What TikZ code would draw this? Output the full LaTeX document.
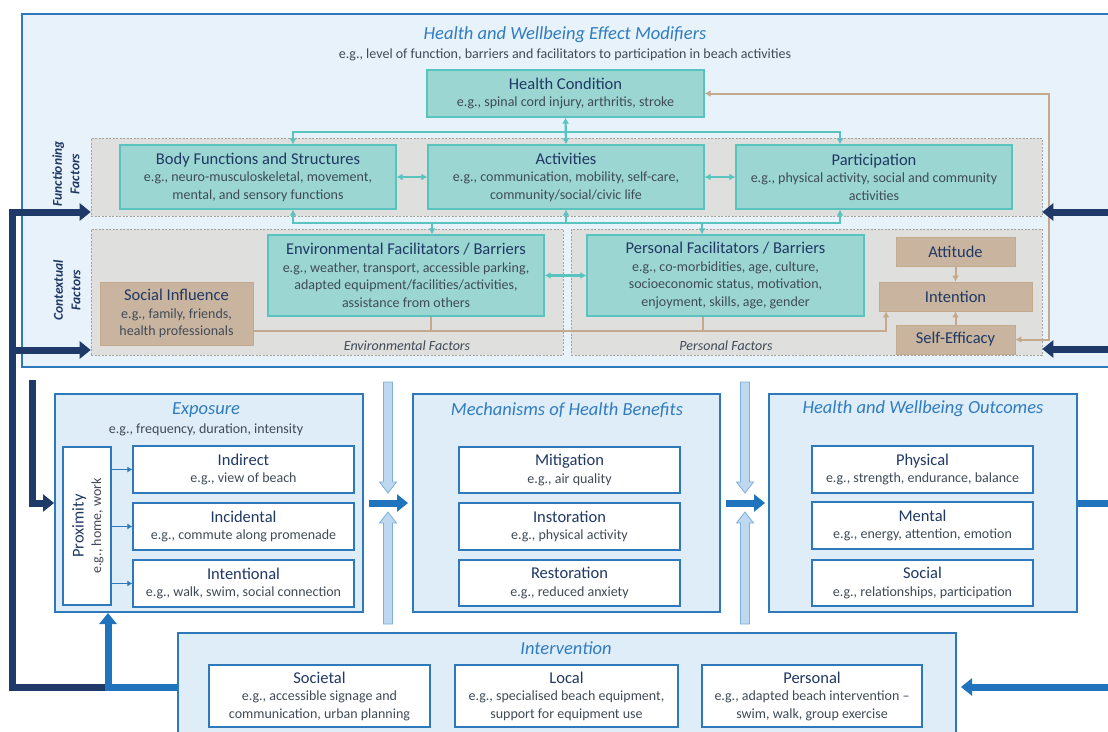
\documentclass[tikz,border=0pt]{standalone}
\usepackage{fontspec}
\setmainfont{Carlito}
\usetikzlibrary{arrows.meta}
\definecolor{topFill}{HTML}{E7F2FA}
\definecolor{panelFill}{HTML}{DFEDF8}
\definecolor{frameBlue}{HTML}{2E78BC}
\definecolor{titleBlue}{HTML}{2F7CC0}
\definecolor{navyBlue}{HTML}{1F3A68}
\definecolor{headColor}{HTML}{1F3864}
\definecolor{bodyColor}{HTML}{404B57}
\definecolor{tealFill}{HTML}{9BD6D3}
\definecolor{tealLine}{HTML}{59C3C0}
\definecolor{tanFill}{HTML}{C8B49F}
\definecolor{tanLine}{HTML}{C4A98D}
\definecolor{zoneFill}{HTML}{DFDFDD}
\definecolor{zoneLine}{HTML}{A8A29A}
\definecolor{hollowFill}{HTML}{BED8EF}
\definecolor{hollowLine}{HTML}{7FB0DC}
\definecolor{arrowBlue}{HTML}{1F74BD}
\newcommand{\bodysize}{\fontsize{14}{17.5}\selectfont}
\newcommand{\boxhead}[1]{{\fontsize{16.5}{19}\selectfont\color{headColor}#1}}
\tikzset{
	wh/.style 2 args={minimum width=#1pt, minimum height=#2pt},
	panel/.style={draw=frameBlue, fill=panelFill, line width=2pt, inner sep=0pt},
	zone/.style={draw=zoneLine, fill=zoneFill, dash pattern=on 2pt off 1.5pt, line width=0.6pt, inner sep=0pt},
	tealbox/.style={draw=tealLine, fill=tealFill, line width=1.3pt, align=center, inner sep=0pt, text=bodyColor, font=\bodysize},
	tanbox/.style={draw=tanLine, fill=tanFill, line width=0.8pt, align=center, inner sep=0pt, text=bodyColor, font=\bodysize},
	whitebox/.style={draw=frameBlue, fill=white, line width=1.3pt, align=center, inner sep=0pt, text=bodyColor, font=\bodysize},
	title/.style={text=titleBlue, font=\fontsize{18.5}{22}\selectfont\itshape, inner sep=0pt},
	note/.style={text=bodyColor, font=\bodysize, inner sep=0pt, align=center},
	sidelabel/.style={text=headColor, font=\fontsize{13.5}{17.5}\selectfont\bfseries\itshape, align=center, inner sep=0pt},
	tealarrow/.style={tealLine, line width=2.2pt, -{Latex[length=6pt,width=7pt]}},
	tealboth/.style={tealLine, line width=2.2pt, {Latex[length=6pt,width=7pt]}-{Latex[length=6pt,width=7pt]}},
	tanline/.style={tanLine, line width=2pt},
	tanarrow/.style={tanLine, line width=2pt, -{Latex[length=6pt,width=7pt]}},
	tanboth/.style={tanLine, line width=2pt, {Latex[length=6pt,width=7pt]}-{Latex[length=6pt,width=7pt]}},
	navyarrow/.style={navyBlue, line width=7pt, -{Triangle[length=11pt,width=17pt]}},
	blueline/.style={arrowBlue, line width=7pt},
	bluearrow/.style={arrowBlue, line width=7pt, -{Triangle[length=11pt,width=17pt]}},
	smallarrow/.style={frameBlue, line width=1.5pt, -{Latex[length=5pt,width=6pt]}},
	hollow/.style={draw=hollowLine, fill=hollowFill, line width=0.8pt}
}
\begin{document}
\begin{tikzpicture}[x=1pt,y=-1pt]
	\useasboundingbox (0,0) rectangle (1108,731);
	\clip (0,0) rectangle (1108,731);
	\fill[white] (0,0) rectangle (1108,731);
	% effect modifiers
	\node[panel, fill=topFill, wh={1103}{353}] (emod) at (573.5,190.5) {};
	\node[title] (emodT) at (565,35) {Health and Wellbeing Effect Modifiers};
	\node[note] (emodS) at (565,55) {e.g., level of function, barriers and facilitators to participation in beach activities};
	\node[zone, wh={951}{78}] (zf) at (566.5,177) {};
	\node[zone, wh={472}{126}] (zce) at (327,292) {};
	\node[zone, wh={471}{126}] (zcp) at (806.5,292) {};
	\node[sidelabel, rotate=90] (ffl) at (66,174) {Functioning\\Factors};
	\node[sidelabel, rotate=90] (cfl) at (67,290) {Contextual\\Factors};
	\node[note, font=\bodysize\itshape] (zel) at (407,346) {Environmental Factors};
	\node[note, font=\bodysize\itshape] (zpl) at (726,346) {Personal Factors};
	\node[tealbox, wh={277}{47}] (hc) at (565.5,93.5) {\boxhead{Health Condition}\\e.g., spinal cord injury, arthritis, stroke};
	\node[tealbox, wh={276}{64}] (bf) at (258,177) {\boxhead{Body Functions and Structures}\\e.g., neuro-musculoskeletal, movement,\\mental, and sensory functions};
	\node[tealbox, wh={276}{64}] (ac) at (566,177) {\boxhead{Activities}\\e.g., communication, mobility, self-care,\\community/social/civic life};
	\node[tealbox, wh={276}{64}] (pa) at (874,177) {\boxhead{Participation}\\e.g., physical activity, social and community\\activities};
	\node[tealbox, wh={276}{81}] (env) at (406,275.5) {\boxhead{Environmental Facilitators / Barriers}\\e.g., weather, transport, accessible parking,\\adapted equipment/facilities/activities,\\assistance from others};
	\node[tealbox, wh={277}{81}] (pers) at (725.5,275.5) {\boxhead{Personal Facilitators / Barriers}\\e.g., co-morbidities, age, culture,\\socioeconomic status, motivation,\\enjoyment, skills, age, gender};
	\node[tanbox, wh={153}{63}] (si) at (176.5,313.5) {\boxhead{Social Influence}\\e.g., family, friends,\\health professionals};
	\node[tanbox, wh={119}{29}] (att) at (955.5,251.5) {\boxhead{Attitude}};
	\node[tanbox, wh={153}{29}] (int) at (955.5,296.5) {\boxhead{Intention}};
	\node[tanbox, wh={119}{29}] (se) at (955.5,339.5) {\boxhead{Self-Efficacy}};
	\draw[tealboth] (hc.south) -- (ac.north);
	\draw[tealarrow] (566,132) -| (293,0 |- bf.north);
	\draw[tealarrow] (566,132) -| (840,0 |- pa.north);
	\draw[tealarrow] (566,223) -| (293,0 |- bf.south);
	\draw[tealarrow] (566,223) -| (840,0 |- pa.south);
	\draw[tealarrow] (ac.south |- 0,223) -- (ac.south);
	\draw[tealarrow] (432,223) -- (432,0 |- env.north);
	\draw[tealarrow] (702,223) -- (702,0 |- pers.north);
	\draw[tealboth] (bf.east) -- (ac.west);
	\draw[tealboth] (ac.east) -- (pa.west);
	\draw[tealboth] (env.east) -- (pers.west);
	\coordinate (fb) at (1049,339.5);
	\draw[tanboth] (hc.east) -| (fb) -- (se.east);
	\draw[tanarrow] (si.east |- 0,331) -| (886,0 |- int.south);
	\draw[tanline] (431,0 |- env.south) -- (431,331);
	\draw[tanline] (703,0 |- pers.south) -- (703,331);
	\draw[tanarrow] (att.south) -- (int.north);
	\draw[tanarrow] (se.north) -- (int.south);
	% exposure, mechanisms, outcomes
	\node[panel, wh={308}{218}] (ex) at (209,503) {};
	\node[title] (exT) at (206,410) {Exposure};
	\node[note] (exS) at (206,430) {e.g., frequency, duration, intensity};
	\node[whitebox, wh={48}{158}] (prox) at (87,526) {};
	\node[note, rotate=90] (proxT) at (88,526) {\boxhead{Proximity}\\e.g., home, work};
	\node[whitebox, wh={221}{47}] (ind) at (243.5,469.5) {\boxhead{Indirect}\\e.g., view of beach};
	\node[whitebox, wh={221}{47}] (inc) at (243.5,526.5) {\boxhead{Incidental}\\e.g., commute along promenade};
	\node[whitebox, wh={221}{47}] (itl) at (243.5,583.5) {\boxhead{Intentional}\\e.g., walk, swim, social connection};
	\foreach \b in {ind,inc,itl}
		\draw[smallarrow] (prox.east |- \b.west) -- (\b.west);
	\node[panel, wh={307}{218}] (mech) at (566.5,503) {};
	\node[title] (mechT) at (567,410) {Mechanisms of Health Benefits};
	\node[whitebox, wh={221}{46}] (mit) at (569.5,470) {\boxhead{Mitigation}\\e.g., air quality};
	\node[whitebox, wh={221}{47}] (ins) at (569.5,526.5) {\boxhead{Instoration}\\e.g., physical activity};
	\node[whitebox, wh={221}{46}] (res) at (569.5,583) {\boxhead{Restoration}\\e.g., reduced anxiety};
	\node[panel, wh={308}{218}] (out) at (923,503) {};
	\node[title] (outT) at (923,409) {Health and Wellbeing Outcomes};
	\node[whitebox, wh={221}{47}] (phy) at (922.5,469.5) {\boxhead{Physical}\\e.g., strength, endurance, balance};
	\node[whitebox, wh={221}{47}] (men) at (922.5,525.5) {\boxhead{Mental}\\e.g., energy, attention, emotion};
	\node[whitebox, wh={221}{46}] (soc) at (922.5,583) {\boxhead{Social}\\e.g., relationships, participation};
	% intervention
	\node[panel, wh={778}{120}] (iv) at (567,693) {};
	\node[title] (ivT) at (566,648) {Intervention};
	\node[whitebox, wh={221}{62}] (soci) at (319.5,696) {\boxhead{Societal}\\e.g., accessible signage and\\communication, urban planning};
	\node[whitebox, wh={223}{62}] (loc) at (566.5,696) {\boxhead{Local}\\e.g., specialised beach equipment,\\support for equipment use};
	\node[whitebox, wh={220}{62}] (per) at (812,696) {\boxhead{Personal}\\e.g., adapted beach intervention --\\swim, walk, group exercise};
	% hollow arrows
	\foreach \hx in {388,745}{
		\draw[hollow] (\hx-4.5,382) -- (\hx+4.5,382) -- (\hx+4.5,482) -- (\hx+8.5,482) -- (\hx,493) -- (\hx-8.5,482) -- (\hx-4.5,482) -- cycle;
		\draw[hollow] (\hx-4.5,624) -- (\hx+4.5,624) -- (\hx+4.5,523) -- (\hx+8.5,523) -- (\hx,512) -- (\hx-8.5,523) -- (\hx-4.5,523) -- cycle;
	}
	\draw[bluearrow, shorten <=5pt, shorten >=4pt] (ex.east) -- (mech.west);
	\draw[bluearrow, shorten <=5pt, shorten >=3pt] (mech.east) -- (out.west);
	\coordinate (outR) at (1108,503);
	\draw[blueline] (out.east) -- (outR);
	\coordinate (ivR) at (1108,687);
	\draw[bluearrow, shorten >=4pt] (ivR) -- (iv.east |- ivR);
	% feedback loops
	\draw[navyarrow] (105,687) -| (12,212) -- (zf.west |- 0,212);
	\draw[navyarrow] (12,350) -- (zce.west |- 0,350);
	\draw[navyarrow] (32,380) |- (ex.west);
	\coordinate (rin1) at (1108,212);
	\coordinate (rin2) at (1108,349);
	\draw[navyarrow] (rin1) -- (zf.east |- rin1);
	\draw[navyarrow] (rin2) -- (zcp.east |- rin2);
	\draw[bluearrow] (iv.west |- 0,687) -| (108,0 |- ex.south);
\end{tikzpicture}
\end{document}
